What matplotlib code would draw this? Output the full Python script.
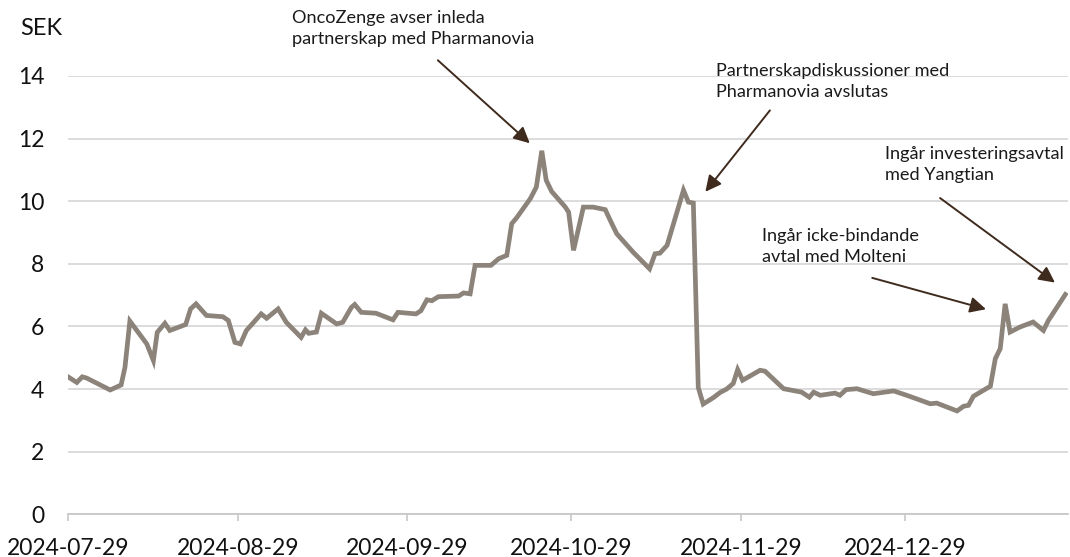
import pandas as pd
import matplotlib
matplotlib.use('Agg')
import matplotlib.pyplot as plt
import matplotlib.dates as mdates

plt.rcParams['font.family'] = ['Lato', 'DejaVu Sans']

# price, x as days after 2024-07-29
start = pd.Timestamp('2024-07-29')
days = [0, 1.6, 2.6, 3.4, 7.7, 9.7, 10.4, 11.3, 14.4, 15.6, 16.3, 17.7, 18.6,
        21.5, 22.4, 23.4, 25.3, 28.3, 29.3, 30.5, 31.5, 32.6, 35.3, 36.3, 38.4,
        39.9, 42.6, 43.4, 44.0, 45.4, 46.3, 49.1, 50.2, 51.8, 52.4, 53.6, 56.3,
        59.4, 60.3, 63.6, 64.5, 65.6, 66.5, 67.7, 71.4, 72.3, 73.5, 74.4, 77.3,
        78.7, 80.2, 81.1, 82.0, 84.5, 85.6, 86.6, 87.4, 88.4, 90.9, 91.5, 92.4,
        94.2, 96.0, 98.2, 99.1, 100.3, 103.3, 106.3, 107.3, 108.2, 109.5, 112.5,
        113.4, 114.3, 115.2, 116.1, 118.0, 119.2, 120.4, 121.6, 122.4, 123.3,
        126.5, 127.4, 130.8, 134.1, 135.5, 136.3, 137.5, 140.2, 141.1, 142.2,
        144.2, 147.2, 150.9, 153.3, 157.6, 158.8, 162.5, 163.7, 164.6, 165.5,
        168.6, 169.5, 170.4, 171.3, 172.2, 174.0, 176.4, 178.3, 179.2, 182.3]
sek = [4.39, 4.21, 4.39, 4.35, 3.97, 4.13, 4.69, 6.17, 5.44, 4.91, 5.81, 6.10, 5.87,
       6.06, 6.56, 6.72, 6.35, 6.31, 6.19, 5.49, 5.44, 5.87, 6.40, 6.26, 6.56,
       6.13, 5.65, 5.89, 5.78, 5.82, 6.42, 6.08, 6.13, 6.61, 6.70, 6.45, 6.42,
       6.21, 6.45, 6.40, 6.50, 6.85, 6.82, 6.95, 6.97, 7.07, 7.04, 7.95, 7.95,
       8.16, 8.27, 9.28, 9.47, 10.08, 10.45, 11.61, 10.67, 10.31, 9.81, 9.65, 8.43,
       9.81, 9.81, 9.73, 9.39, 8.96, 8.37, 7.84, 8.32, 8.34, 8.59, 10.35,
       9.97, 9.94, 4.05, 3.52, 3.73, 3.89, 4.00, 4.18, 4.62, 4.28,
       4.60, 4.57, 4.01, 3.90, 3.74, 3.90, 3.80, 3.87, 3.80, 3.98,
       4.01, 3.85, 3.94, 3.80, 3.53, 3.55, 3.30, 3.45, 3.48, 3.77,
       4.09, 4.97, 5.29, 6.72, 5.82, 5.98, 6.14, 5.87, 6.19, 7.02]
tick_dates = ['2024-07-29', '2024-08-29', '2024-09-29', '2024-10-29',
              '2024-11-29', '2024-12-29']
yticks = [0, 2, 4, 6, 8, 10, 12, 14]

# events: text, arrow tail (days, SEK), arrow head (days, SEK)
events = ['OncoZenge avser inleda\npartnerskap med Pharmanovia',
          'Partnerskapdiskussioner med\nPharmanovia avslutas',
          'Ingår investeringsavtal\nmed Yangtian',
          'Ingår icke-bindande\navtal med Molteni']
tail_days = [67.6, 128.3, 159.4, 147.0]
tail_sek = [14.5, 12.9, 10.1, 7.55]
head_days = [84.4, 116.5, 180.4, 167.8]
head_sek = [11.85, 10.3, 7.4, 6.55]

dates = start + pd.to_timedelta(days, unit='D')

fig = plt.figure(figsize=(10.7, 5.57), dpi=100)
ax = fig.add_axes([0.0636, 0.0767, 0.9346, 0.787])

ax.plot(dates, sek, color='#8c837a', lw=3.4, solid_joinstyle='miter', zorder=3)

ax.set_ylim(0, 14)
ax.set_yticks(yticks)
ax.set_xlim(start, start + pd.Timedelta(days=182.8))
ax.set_xticks(pd.to_datetime(tick_dates))
ax.xaxis.set_major_formatter(mdates.DateFormatter('%Y-%m-%d'))

ax.grid(axis='y', color='#d9d9d9', lw=1.3)
ax.set_axisbelow(True)
for s in ['top', 'right', 'left']:
    ax.spines[s].set_visible(False)
ax.spines['bottom'].set_color('#c8c8c8')
ax.spines['bottom'].set_linewidth(1.3)
ax.tick_params(axis='y', length=0, pad=17, labelsize=16.5, labelcolor='#111111')
ax.tick_params(axis='x', length=5, width=1.2, color='#c8c8c8', pad=12,
               labelsize=16.5, labelcolor='#111111')

fig.text(20 / 1070, 1 - 18 / 557, 'SEK', fontsize=17, color='#111111', va='top')

text_pos = [(292, 10), (716, 63), (885, 146), (762, 228)]
for i, txt in enumerate(events):
    fig.text(text_pos[i][0] / 1070, 1 - text_pos[i][1] / 557, txt,
             fontsize=13.1, color='#1a1a1a', va='top', ha='left', linespacing=1.42)
    ax.annotate('', xy=(start + pd.Timedelta(days=head_days[i]), head_sek[i]),
                xytext=(start + pd.Timedelta(days=tail_days[i]), tail_sek[i]),
                annotation_clip=False,
                arrowprops=dict(arrowstyle='-|>', color='#3f2b1e', lw=1.4,
                                mutation_scale=24, shrinkA=0, shrinkB=0))

fig.savefig('out.png', dpi=100)
